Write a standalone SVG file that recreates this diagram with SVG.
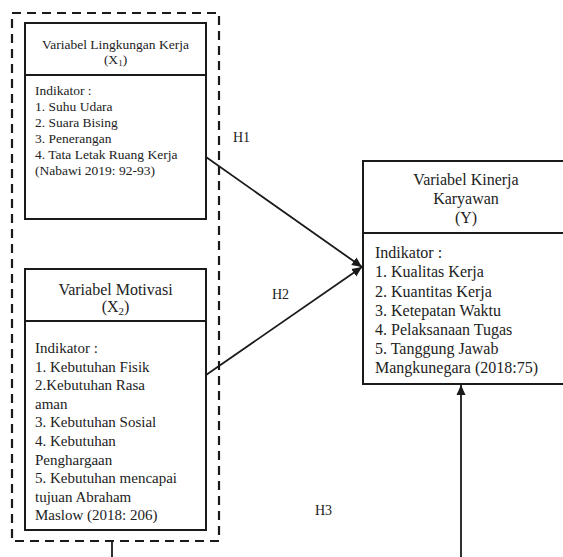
<svg xmlns="http://www.w3.org/2000/svg" width="563" height="557" viewBox="0 0 563 557">
<defs>
<style>
.box{fill:#fff;stroke:#1a1a1a;stroke-width:2}
.div{stroke:#1a1a1a;stroke-width:2}
.dash{fill:none;stroke:#1a1a1a;stroke-width:2.2;stroke-dasharray:9 6}
.t{font-family:"Liberation Serif","Times New Roman",serif;fill:#222}
.s1{font-size:13.5px}
.s2{font-size:16px}
.s3{font-size:15px}
.lbl{font-family:"Liberation Serif","Times New Roman",serif;fill:#222;font-size:14px}
.con{fill:none;stroke:#1a1a1a;stroke-width:1.8}
</style>
<marker id="arr" markerUnits="userSpaceOnUse" markerWidth="12" markerHeight="10" refX="10" refY="5" orient="auto">
<path d="M0,0.5 L10,5 L0,9.5 Z" fill="#1a1a1a"/>
</marker>
</defs>
<rect width="563" height="557" fill="#fff"/>

<g id="group-x">
<rect class="dash" x="12" y="13" width="207" height="528"/>
</g>

<g id="node-x1">
<rect class="box" x="25" y="23" width="181" height="196"/>
<line class="div" x1="25" y1="75" x2="206" y2="75"/>
<text class="t s1" x="115.5" y="49" text-anchor="middle">Variabel Lingkungan Kerja</text>
<text class="t s1" x="115.5" y="64" text-anchor="middle">(X<tspan font-size="9" dy="2">1</tspan><tspan dy="-2">)</tspan></text>
<text class="t s1" x="35" y="95">Indikator :</text>
<text class="t s1" x="35" y="111">1. Suhu Udara</text>
<text class="t s1" x="35" y="127">2. Suara Bising</text>
<text class="t s1" x="35" y="143">3. Penerangan</text>
<text class="t s1" x="35" y="159">4. Tata Letak Ruang Kerja</text>
<text class="t s1" x="35" y="175">(Nabawi 2019: 92-93)</text>
</g>

<g id="node-x2">
<rect class="box" x="25" y="269" width="181" height="261"/>
<line class="div" x1="25" y1="321" x2="206" y2="321"/>
<text class="t s2" x="115.5" y="295" text-anchor="middle">Variabel Motivasi</text>
<text class="t s2" x="115.5" y="312" text-anchor="middle">(X<tspan font-size="11" dy="3">2</tspan><tspan dy="-3">)</tspan></text>
<text class="t s3" x="35" y="353">Indikator :</text>
<text class="t s3" x="35" y="371.6">1. Kebutuhan Fisik</text>
<text class="t s3" x="35" y="390.2">2.Kebutuhan Rasa</text>
<text class="t s3" x="35" y="408.8">aman</text>
<text class="t s3" x="35" y="427.4">3. Kebutuhan Sosial</text>
<text class="t s3" x="35" y="446">4. Kebutuhan</text>
<text class="t s3" x="35" y="464.6">Penghargaan</text>
<text class="t s3" x="35" y="483.2">5. Kebutuhan mencapai</text>
<text class="t s3" x="35" y="501.8">tujuan Abraham</text>
<text class="t s3" x="35" y="520.4">Maslow (2018: 206)</text>
</g>

<g id="node-y">
<rect class="box" x="363" y="161" width="210" height="223"/>
<line class="div" x1="363" y1="233" x2="573" y2="233"/>
<text class="t s2" x="466" y="185" text-anchor="middle">Variabel Kinerja</text>
<text class="t s2" x="466" y="204" text-anchor="middle">Karyawan</text>
<text class="t s2" x="466" y="223" text-anchor="middle">(Y)</text>
<text class="t s2" x="375" y="258">Indikator :</text>
<text class="t s2" x="375" y="277">1. Kualitas Kerja</text>
<text class="t s2" x="375" y="296.5">2. Kuantitas Kerja</text>
<text class="t s2" x="375" y="315.5">3. Ketepatan Waktu</text>
<text class="t s2" x="375" y="335">4. Pelaksanaan Tugas</text>
<text class="t s2" x="375" y="354">5. Tanggung Jawab</text>
<text class="t s2" x="375" y="373">Mangkunegara (2018:75)</text>
</g>

<g id="connectors">
<line class="con" x1="206" y1="157" x2="362" y2="267" marker-end="url(#arr)"/>
<line class="con" x1="206" y1="375" x2="362" y2="267" marker-end="url(#arr)"/>
<polyline class="con" points="112,541 112,562 461,562 461,385" marker-end="url(#arr)"/>
<text class="lbl" x="233" y="142">H1</text>
<text class="lbl" x="272" y="299">H2</text>
<text class="lbl" x="315" y="515">H3</text>
</g>
</svg>
